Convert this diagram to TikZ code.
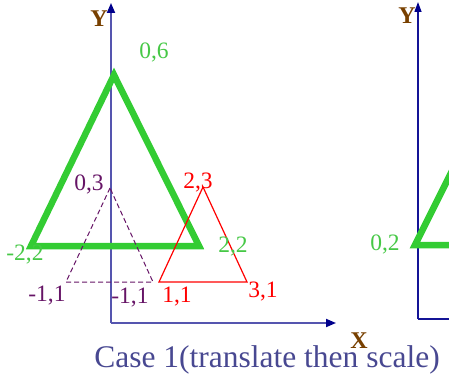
\documentclass[tikz,border=0pt]{standalone}
\usepackage{fontspec}
\setmainfont{Liberation Serif}
\usetikzlibrary{arrows.meta}
\definecolor{axisblue}{RGB}{85,85,175}
\definecolor{navyhead}{RGB}{0,0,140}
\definecolor{darkaxis}{RGB}{20,20,150}
\definecolor{tgreen}{RGB}{51,204,51}
\definecolor{lgreen}{RGB}{70,200,70}
\definecolor{tred}{RGB}{255,0,0}
\definecolor{tpurple}{RGB}{102,20,102}
\definecolor{tbrown}{RGB}{120,64,0}
\definecolor{captionblue}{RGB}{72,72,145}
\tikzset{
  axisline/.style={draw=axisblue, line width=1.8pt, -{Triangle[length=10pt,width=8pt,color=navyhead]}},
  axisdark/.style={draw=darkaxis, line width=1.3pt, -{Triangle[length=10pt,width=7pt,color=navyhead]}},
  axislbl/.style={font=\fontsize{24}{24}\selectfont\bfseries, text=tbrown, inner sep=0pt},
  lbl/.style={font=\fontsize{23.5}{24}\selectfont, inner sep=0pt},
  greentri/.style={draw=tgreen, line width=6.5pt, line join=miter},
  redtri/.style={draw=tred, line width=1.2pt},
  purpletri/.style={draw=tpurple, line width=1pt, dash pattern=on 5pt off 3pt},
}
\begin{document}
\begin{tikzpicture}[x=1pt,y=-1pt]
\useasboundingbox (0,0) rectangle (449,379);
\clip (0,0) rectangle (449,379);
% left axes
\coordinate (o1) at (111,323);
\coordinate (y1) at (111,3);
\coordinate (x1) at (336,323);
\draw[axisline] (o1) -- (y1);
\draw[axisline] (o1) -- (x1);
\node[axislbl] (ylab1) at (99,19) {Y};
\node[axislbl] (xlab1) at (359,341) {X};
% green triangle
\coordinate (ga) at (114,75);
\coordinate (gl) at (31,246);
\coordinate (gr) at (199,246);
\draw[greentri] (ga) -- (gl) -- (gr) -- cycle;
% purple dashed triangle
\coordinate (pa) at (110,188);
\coordinate (pl) at (66,282);
\coordinate (pr) at (153,282);
\draw[purpletri] (pa) -- (pl) -- (pr) -- cycle;
% red triangle
\coordinate (ra) at (203,187);
\coordinate (rl) at (159,282);
\coordinate (rr) at (247,282);
\draw[redtri] (ra) -- (rl) -- (rr) -- cycle;
% labels
\node[lbl, text=lgreen] (l06) at (154,52) {0,6};
\node[lbl, text=lgreen] (lm22) at (25,255) {-2,2};
\node[lbl, text=lgreen] (l22) at (233,247) {2,2};
\node[lbl, text=tpurple] (l03) at (89,184) {0,3};
\node[lbl, text=tpurple] (lm11a) at (47,296) {-1,1};
\node[lbl, text=tpurple] (lm11b) at (130,298) {-1,1};
\node[lbl, text=tred] (l23) at (198,183) {2,3};
\node[lbl, text=tred] (l11) at (177,297) {1,1};
\node[lbl, text=tred] (l31) at (263,292) {3,1};
% right partial axes
\coordinate (o2) at (418,319);
\coordinate (y2) at (418,2);
\coordinate (x2) at (470,319);
\draw[axisdark] (o2) -- (y2);
\draw[draw=darkaxis, line width=1.3pt] (o2) -- (x2);
\node[axislbl] (ylab2) at (407,16) {Y};
\coordinate (g2l) at (415,245);
\coordinate (g2t) at (465,145);
\coordinate (g2r) at (470,245);
\draw[greentri] (g2t) -- (g2l) -- (g2r);
\node[lbl, text=lgreen] (l02) at (385,244) {0,2};
% caption
\node[font=\fontsize{31.5}{32}\selectfont, text=captionblue, inner sep=0pt, anchor=base] (cap) at (267,367) {Case 1(translate then scale)};
\end{tikzpicture}
\end{document}
